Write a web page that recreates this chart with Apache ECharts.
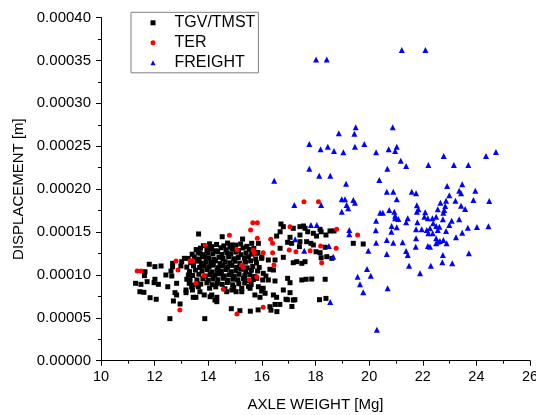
<!DOCTYPE html>
<html>
<head>
<meta charset="utf-8">
<script src="https://cdn.jsdelivr.net/npm/echarts@6/dist/echarts.min.js"></script>
<style>
  * { margin: 0; padding: 0; }
  body { background: #fff; }
  #main { width: 536px; height: 415px; }
</style>
</head>
<body>
<div id="main"></div>
<script>
// axle weight [Mg], displacement [m]
var tgv = [
  [11.80,11.24e-5],[12.01,10.96e-5],[12.24,11.04e-5],[11.64,10.37e-5],[11.62,9.91e-5],[12.42,9.99e-5],
  [11.29,9.02e-5],[11.49,8.90e-5],[11.72,9.21e-5],[11.98,9.09e-5],[12.01,9.49e-5],[12.14,8.90e-5],
  [12.49,8.62e-5],[11.45,8.04e-5],[11.60,7.97e-5],[11.83,7.34e-5],[12.06,7.16e-5],[12.57,4.90e-5],
  [13.64,14.77e-5],[14.52,14.45e-5],[14.88,13.49e-5],[13.11,11.93e-5],[12.67,11.35e-5],[12.98,11.04e-5],
  [12.61,10.45e-5],[13.26,9.99e-5],[12.64,9.87e-5],[12.82,9.02e-5],[13.41,8.24e-5],[12.82,7.66e-5],
  [12.70,6.96e-5],[12.95,6.61e-5],[13.17,7.93e-5],[13.54,7.39e-5],[13.85,7.66e-5],[14.13,7.66e-5],
  [14.25,7.07e-5],[14.32,7.39e-5],[14.86,6.06e-5],[13.87,4.90e-5],[13.32,9.41e-5],[13.44,8.82e-5],
  [13.63,8.62e-5],[13.69,8.04e-5],
  [15.57,5.77e-5],[15.86,5.92e-5],[16.34,5.89e-5],[16.49,6.56e-5],[16.67,6.56e-5],[16.56,5.72e-5],
  [17.12,6.32e-5],[16.95,7.11e-5],[17.23,7.11e-5],[18.15,7.11e-5],
  [16.71,15.93e-5],[16.80,15.62e-5],[17.17,15.43e-5],[17.42,15.62e-5],[17.55,15.70e-5],[17.61,15.43e-5],
  [16.68,15.03e-5],[16.55,14.53e-5],[18.17,15.31e-5],[18.21,15.03e-5],[17.71,15.03e-5],[17.92,14.85e-5],
  [17.42,14.65e-5],[17.05,14.38e-5],[18.04,14.53e-5],[18.39,14.65e-5],[16.96,13.80e-5],[17.11,13.68e-5],
  [17.42,13.87e-5],[17.67,13.87e-5],[17.83,13.68e-5],[15.87,13.68e-5],[15.62,13.68e-5],[16.68,13.10e-5],
  [17.40,13.29e-5],[17.92,13.49e-5],[18.36,13.22e-5],[18.02,12.70e-5],[18.17,12.59e-5],[16.80,12.05e-5],
  [16.49,11.74e-5],[17.17,11.42e-5],[17.30,11.54e-5],[17.49,11.35e-5],[17.61,11.54e-5],[18.21,12.00e-5],
  [18.42,12.12e-5],[18.61,11.93e-5],[15.81,12.52e-5],[15.99,11.93e-5],[16.24,11.74e-5],[16.30,10.65e-5],
  [16.43,10.57e-5],[16.05,10.19e-5],[16.15,9.87e-5],[15.81,9.60e-5],[16.03,9.41e-5],[16.24,9.41e-5],
  [16.49,9.29e-5],[16.96,9.60e-5],[17.05,9.09e-5],[17.49,9.41e-5],[17.65,9.49e-5],[17.86,9.52e-5],
  [18.36,9.49e-5],[15.87,8.62e-5],[16.05,8.44e-5],[15.99,8.12e-5],[16.80,8.24e-5],[17.05,7.93e-5],
  [15.74,7.66e-5],[15.93,7.39e-5],[16.43,7.66e-5],[16.55,7.39e-5],[16.90,7.16e-5],[17.17,7.07e-5],
  [16.30,6.29e-5],[18.39,7.26e-5],
  [19.41,13.68e-5],[19.78,13.60e-5],[18.54,15.12e-5],[18.69,15.12e-5],
  [15.28,14.18e-5],[14.13,13.29e-5],[14.00,13.10e-5],[14.81,13.22e-5],[13.69,12.52e-5],[13.79,12.12e-5],
  [13.01,11.54e-5],[12.67,10.96e-5],[13.20,9.49e-5],[13.29,9.02e-5],[13.38,8.62e-5],[13.17,8.24e-5],
  [13.44,7.39e-5],[14.07,7.46e-5],[14.32,6.88e-5],[12.76,7.93e-5],[14.69,8.04e-5],[14.88,8.24e-5],
  [15.04,8.04e-5],[15.25,8.04e-5],[15.56,8.44e-5],[15.18,5.83e-5],[16.12,7.86e-5],
  // dense core
  [13.82,13.41e-5],[14.05,13.62e-5],[14.31,13.55e-5],[14.58,13.38e-5],[14.72,13.71e-5],[15.02,13.47e-5],
  [15.21,13.60e-5],[15.44,13.33e-5],
  [13.55,12.95e-5],[13.71,13.12e-5],[13.95,12.88e-5],[14.12,13.05e-5],[14.28,12.81e-5],[14.47,13.16e-5],
  [14.66,12.92e-5],[14.90,13.01e-5],[15.13,12.84e-5],[15.30,13.14e-5],[15.52,12.97e-5],[15.70,13.08e-5],
  [13.40,12.41e-5],[13.62,12.63e-5],[13.80,12.36e-5],[13.98,12.55e-5],[14.17,12.47e-5],[14.35,12.69e-5],
  [14.51,12.38e-5],[14.70,12.58e-5],[14.84,12.44e-5],[15.03,12.66e-5],[15.22,12.35e-5],[15.41,12.53e-5],
  [15.62,12.42e-5],[15.85,12.61e-5],
  [13.25,11.92e-5],[13.48,12.08e-5],[13.66,11.85e-5],[13.87,12.14e-5],[14.02,11.97e-5],[14.21,11.83e-5],
  [14.40,12.05e-5],[14.55,11.91e-5],[14.76,12.12e-5],[14.95,11.88e-5],[15.12,12.02e-5],[15.35,11.95e-5],
  [15.50,12.11e-5],[15.77,11.86e-5],[16.00,12.06e-5],
  [13.35,11.43e-5],[13.57,11.61e-5],[13.74,11.37e-5],[13.92,11.55e-5],[14.10,11.46e-5],[14.27,11.64e-5],
  [14.44,11.33e-5],[14.63,11.52e-5],[14.81,11.41e-5],[15.00,11.60e-5],[15.18,11.36e-5],[15.39,11.49e-5],
  [15.58,11.63e-5],[15.80,11.40e-5],
  [13.20,10.91e-5],[13.45,11.07e-5],[13.68,10.86e-5],[13.85,11.02e-5],[14.03,10.95e-5],[14.19,11.13e-5],
  [14.37,10.84e-5],[14.53,11.05e-5],[14.72,10.93e-5],[14.88,11.11e-5],[15.06,10.88e-5],[15.26,11.03e-5],
  [15.45,10.82e-5],[15.66,10.99e-5],[15.90,10.87e-5],
  [13.30,10.38e-5],[13.52,10.56e-5],[13.77,10.44e-5],[13.96,10.61e-5],[14.14,10.35e-5],[14.33,10.52e-5],
  [14.49,10.41e-5],[14.67,10.63e-5],[14.86,10.37e-5],[15.04,10.50e-5],[15.23,10.66e-5],[15.40,10.39e-5],
  [15.61,10.54e-5],[15.84,10.45e-5],
  [13.42,9.93e-5],[13.65,10.08e-5],[13.89,9.86e-5],[14.07,10.04e-5],[14.24,9.95e-5],[14.42,10.12e-5],
  [14.60,9.88e-5],[14.79,10.01e-5],[14.97,9.84e-5],[15.15,10.07e-5],[15.36,9.91e-5],[15.55,10.03e-5],
  [15.73,9.82e-5],
  [13.58,9.41e-5],[13.80,9.56e-5],[14.00,9.37e-5],[14.18,9.52e-5],[14.36,9.44e-5],[14.56,9.61e-5],
  [14.74,9.35e-5],[14.93,9.50e-5],[15.10,9.42e-5],[15.31,9.58e-5],[15.48,9.33e-5],[15.68,9.47e-5],
  [13.72,8.93e-5],[13.95,9.08e-5],[14.15,8.86e-5],[14.34,9.01e-5],[14.52,8.90e-5],[14.71,9.12e-5],
  [14.91,8.84e-5],[15.14,8.97e-5],[15.36,9.05e-5],[15.60,8.88e-5],
  [14.05,8.45e-5],[14.28,8.61e-5],[14.62,8.38e-5],[14.95,8.55e-5],[15.25,8.42e-5],[15.50,8.66e-5]
];

var ter = [
  [11.35,10.45e-5],[11.49,10.45e-5],[14.79,14.62e-5],[13.89,13.45e-5],[15.08,12.90e-5],[12.80,11.62e-5],
  [13.32,11.66e-5],[13.42,11.66e-5],[12.87,10.57e-5],[13.85,9.91e-5],[13.54,9.02e-5],[14.56,8.32e-5],
  [12.94,5.91e-5],[15.07,5.44e-5],[15.58,15.23e-5],[15.66,16.08e-5],[15.83,16.08e-5],[15.25,11.15e-5],
  [15.31,10.86e-5],[15.81,9.79e-5],[15.53,9.41e-5],[15.83,14.27e-5],[15.68,12.90e-5],[15.72,12.59e-5],
  [16.05,12.59e-5],[16.33,14.15e-5],[16.40,13.68e-5],[16.40,12.59e-5],[17.05,15.62e-5],[17.02,12.90e-5],
  [17.27,12.70e-5],[17.80,12.82e-5],[18.19,13.37e-5],[18.79,15.31e-5],[18.77,13.10e-5],[18.23,11.42e-5],
  [16.45,11.15e-5],[16.05,6.22e-5],[17.57,18.53e-5],[18.11,18.53e-5],[19.57,14.65e-5]
];

var freight = [
  [18.02,35.1e-5],[18.42,35.1e-5],[21.22,36.2e-5],[22.10,36.2e-5],[19.50,27.2e-5],[20.88,27.2e-5],
  [18.87,26.5e-5],[19.45,26.46e-5],[17.77,25.26e-5],[18.46,24.94e-5],[18.19,24.64e-5],[18.69,24.44e-5],
  [19.04,24.29e-5],[19.47,24.94e-5],[19.82,25.26e-5],[20.26,24.29e-5],[20.73,24.64e-5],[21.03,24.94e-5],
  [20.97,24.44e-5],[21.18,23.31e-5],[21.38,22.69e-5],[20.68,22.38e-5],[20.38,21.06e-5],[17.77,22.38e-5],
  [18.14,21.56e-5],[18.55,21.56e-5],[19.14,20.63e-5],[22.21,22.81e-5],[22.78,23.86e-5],[23.16,22.81e-5],
  [23.70,22.81e-5],[24.36,23.86e-5],[24.73,24.32e-5],[22.91,20.36e-5],[23.47,20.56e-5],[23.36,19.81e-5],
  [23.43,19.51e-5],[23.96,19.81e-5],[22.99,19.28e-5],[22.87,18.65e-5],[22.66,18.41e-5],[23.22,18.65e-5],
  [23.89,18.73e-5],[24.48,18.61e-5],[23.43,18.07e-5],[23.58,17.68e-5],[22.84,18.03e-5],[22.80,17.56e-5],
  [22.77,17.25e-5],[22.56,17.64e-5],[22.50,16.78e-5],[23.08,16.32e-5],[23.36,16.48e-5],[22.75,16.48e-5],
  [22.99,15.82e-5],[22.62,15.62e-5],[22.56,15.23e-5],[23.68,15.50e-5],[24.02,15.58e-5],[24.45,15.66e-5],
  [22.87,15.12e-5],[23.47,14.92e-5],[23.24,14.38e-5],[22.77,14.07e-5],[22.89,13.68e-5],[22.56,13.87e-5],
  [22.75,12.32e-5],[23.72,12.52e-5],
  [20.66,19.70e-5],[20.90,19.70e-5],[21.59,19.70e-5],[21.75,19.51e-5],[21.03,18.81e-5],[18.98,18.81e-5],
  [19.10,18.81e-5],[19.41,18.73e-5],[19.47,18.41e-5],[19.16,18.15e-5],[19.22,17.76e-5],[18.98,17.37e-5],
  [21.78,18.11e-5],[21.84,17.65e-5],[21.78,17.37e-5],[20.41,17.25e-5],[20.51,17.25e-5],[20.75,17.56e-5],
  [20.94,17.37e-5],[20.97,16.90e-5],[20.97,16.60e-5],[21.09,16.51e-5],[21.44,16.60e-5],[21.38,16.13e-5],
  [20.26,16.32e-5],[21.80,16.13e-5],[22.09,17.30e-5],[22.06,16.78e-5],[22.19,16.60e-5],[22.36,16.60e-5],
  [22.39,16.01e-5],[22.50,15.70e-5],[22.27,15.43e-5],[22.15,15.23e-5],[21.96,15.31e-5],[21.75,15.31e-5],
  [21.03,15.55e-5],[20.84,15.70e-5],[20.83,15.03e-5],[20.25,15.20e-5],[19.26,15.23e-5],[19.26,14.73e-5],
  [22.21,14.85e-5],[22.37,14.85e-5],[22.50,14.27e-5],[22.64,13.95e-5],[22.50,13.68e-5],[22.19,13.37e-5],
  [22.27,13.29e-5],[21.75,14.27e-5],[21.74,13.29e-5],[21.25,13.80e-5],[20.90,13.75e-5],[20.66,14.07e-5],
  [20.26,13.75e-5],[19.97,12.82e-5],[21.38,12.79e-5],[21.44,12.32e-5],[20.66,12.44e-5],[22.73,11.47e-5],
  [23.10,11.35e-5],[21.49,11.07e-5],[22.30,11.07e-5],[21.90,10.19e-5],[19.92,10.69e-5],[20.06,9.91e-5],
  [19.57,9.79e-5],[19.66,8.90e-5],[19.78,7.97e-5],[20.69,8.44e-5],[18.55,6.85e-5],[20.29,3.62e-5],
  [17.83,15.81e-5],[18.05,15.81e-5],[17.24,14.15e-5],[17.58,12.82e-5],[18.50,13.37e-5],[18.66,12.12e-5],
  [17.21,18.15e-5],[18.21,18.15e-5],[16.46,20.98e-5]
];

var xTicks = { min: 10, max: 26, step: 2 };
var yTicks = { min: 0, max: 0.0004, step: 0.00005 };

var font = 'Liberation Sans, Arial, sans-serif';
var chart = echarts.init(document.getElementById('main'), null, { renderer: 'canvas' });

var option = {
    animation: false,
    backgroundColor: '#fff',
    grid: { left: 101, right: 6, top: 17.5, bottom: 54.3, outerBoundsMode: 'none', containLabel: false },
    legend: {
        orient: 'vertical',
        left: 131,
        top: 12.3,
        selectedMode: false,
        itemWidth: 5,
        itemHeight: 5,
        itemGap: 4,
        padding: [2.5, 3, 2, 19.5],
        borderColor: '#808080',
        borderWidth: 1,
        textStyle: { fontFamily: font, fontSize: 16, color: '#000', lineHeight: 16, padding: [0, 0, 0, 14] },
        data: ['TGV/TMST', 'TER', 'FREIGHT']
    },
    xAxis: {
        type: 'value',
        min: xTicks.min, max: xTicks.max, interval: xTicks.step,
        name: 'AXLE WEIGHT [Mg]',
        nameLocation: 'middle',
        nameGap: 37,
        nameTextStyle: { fontFamily: font, fontSize: 15, color: '#000' },
        axisLine: { lineStyle: { color: '#000', width: 1 } },
        axisTick: { length: 5, lineStyle: { color: '#000' } },
        minorTick: { show: true, splitNumber: 2, length: 3, lineStyle: { color: '#000' } },
        splitLine: { show: false },
        axisLabel: { fontFamily: font, fontSize: 14.5, color: '#000', margin: 9 }
    },
    yAxis: {
        type: 'value',
        min: yTicks.min, max: yTicks.max, interval: yTicks.step,
        name: 'DISPLACEMENT [m]',
        nameLocation: 'middle',
        nameGap: 73,
        nameTextStyle: { fontFamily: font, fontSize: 15, color: '#000' },
        axisLine: { show: true, lineStyle: { color: '#000', width: 1 } },
        axisTick: { show: true, length: 5, lineStyle: { color: '#000' } },
        minorTick: { show: true, splitNumber: 2, length: 3, lineStyle: { color: '#000' } },
        splitLine: { show: false },
        axisLabel: {
            fontFamily: font, fontSize: 15, color: '#000', margin: 10,
            formatter: function (v) { return v.toFixed(5); }
        }
    },
    series: [
        { name: 'TGV/TMST', type: 'scatter', symbol: 'rect', symbolSize: 5,
          itemStyle: { color: '#000', opacity: 1 }, data: tgv },
        { name: 'TER', type: 'scatter', symbol: 'circle', symbolSize: 5,
          itemStyle: { color: '#ff0000', opacity: 1 }, data: ter },
        { name: 'FREIGHT', type: 'scatter', symbol: 'triangle', symbolSize: 6,
          itemStyle: { color: '#0000ff', opacity: 1 }, data: freight }
    ]
};

chart.setOption(option);
</script>
</body>
</html>
